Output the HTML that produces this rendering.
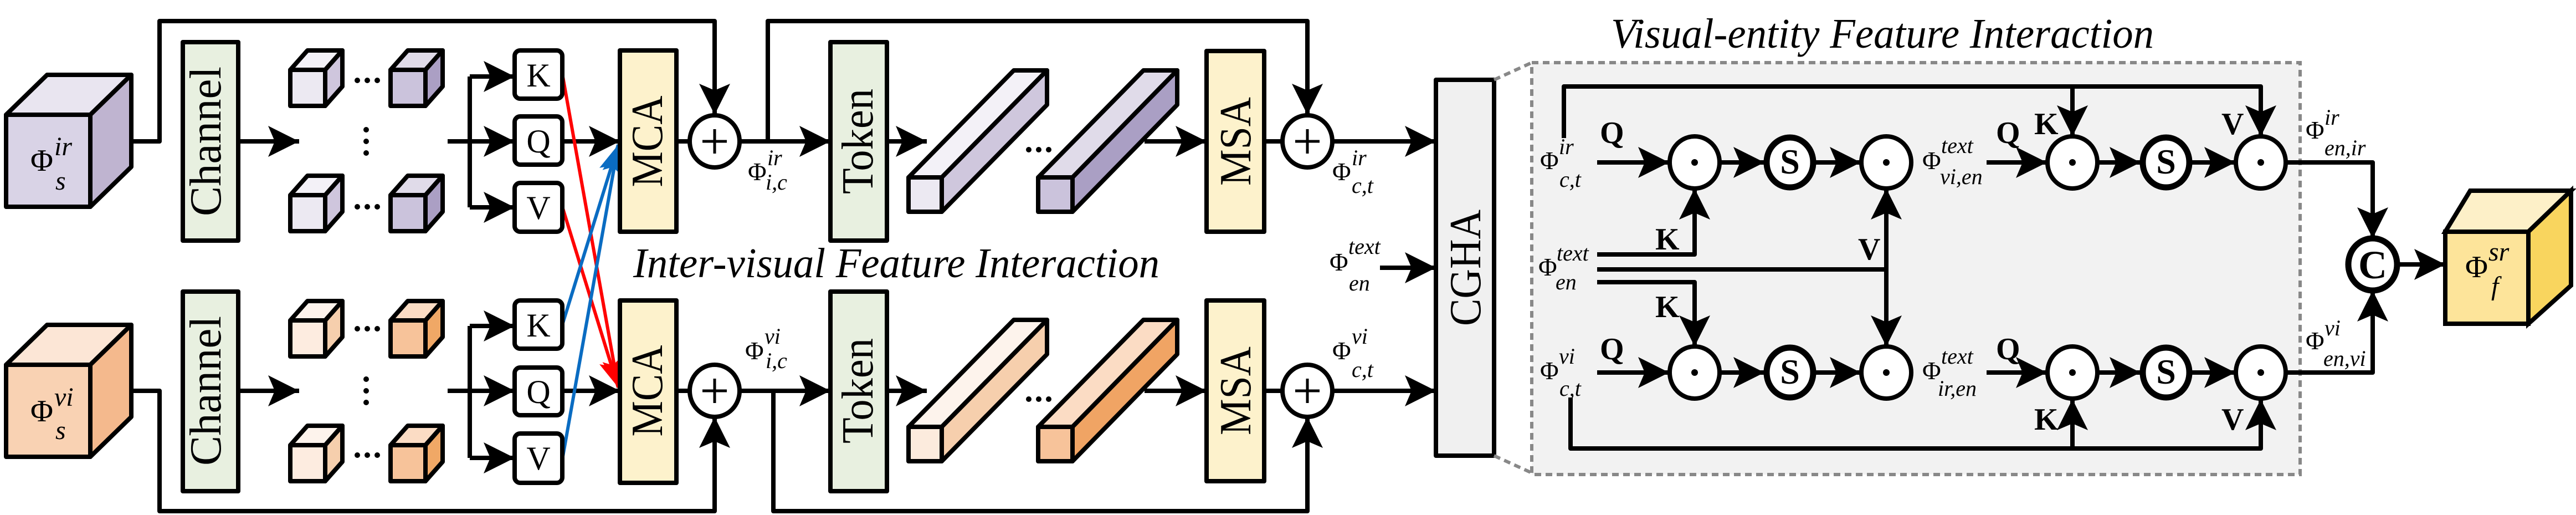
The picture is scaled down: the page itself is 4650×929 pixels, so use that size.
<!DOCTYPE html>
<html><head><meta charset="utf-8"><style>html,body{margin:0;padding:0;background:#fff}svg{display:block}svg text{font-family:"Liberation Serif","DejaVu Serif",serif}</style></head>
<body>
<svg width="4650" height="929" viewBox="0 0 4650 929" xmlns="http://www.w3.org/2000/svg" style="font-family:'Liberation Serif',serif">
<defs>
<marker id="a" markerUnits="userSpaceOnUse" markerWidth="60" markerHeight="60" refX="56" refY="28" orient="auto"><path d="M0,0 L56,28 L0,56 L12,28 Z" fill="#000"/></marker>
<marker id="r" markerUnits="userSpaceOnUse" markerWidth="60" markerHeight="60" refX="50" refY="20" orient="auto"><path d="M0,0 L50,20 L0,40 L10,20 Z" fill="#f00"/></marker>
<marker id="b" markerUnits="userSpaceOnUse" markerWidth="60" markerHeight="60" refX="50" refY="20" orient="auto"><path d="M0,0 L50,20 L0,40 L10,20 Z" fill="#0a6cc2"/></marker>
</defs>
<g stroke="#000" stroke-width="8" fill="none" stroke-linejoin="round">
<polyline points="240,255 288,255 288,38 1290,38 1290,207" marker-end="url(#a)"/>
<polyline points="240,705 288,705 288,922 1290,922 1290,752" marker-end="url(#a)"/>
<polyline points="1336,255 1386,255 1386,38 2360,38 2360,207" marker-end="url(#a)"/>
<polyline points="1336,705 1396,705 1396,922 2360,922 2360,752" marker-end="url(#a)"/>
<line x1="430" y1="255" x2="540" y2="255" marker-end="url(#a)"/>
<line x1="430" y1="705" x2="540" y2="705" marker-end="url(#a)"/>
<polyline points="808,255 848,255"/><polyline points="808,705 848,705"/>
<polyline points="848,138 848,374"/><polyline points="848,588 848,826"/>
<line x1="848" y1="138" x2="929" y2="138" marker-end="url(#a)"/>
<line x1="848" y1="255" x2="929" y2="255" marker-end="url(#a)"/>
<line x1="848" y1="374" x2="929" y2="374" marker-end="url(#a)"/>
<line x1="848" y1="588" x2="929" y2="588" marker-end="url(#a)"/>
<line x1="848" y1="705" x2="929" y2="705" marker-end="url(#a)"/>
<line x1="848" y1="826" x2="929" y2="826" marker-end="url(#a)"/>
<line x1="1015" y1="255" x2="1119" y2="255" marker-end="url(#a)"/>
<line x1="1015" y1="705" x2="1119" y2="705" marker-end="url(#a)"/>
<line x1="1221" y1="255" x2="1244" y2="255"/><line x1="1221" y1="705" x2="1244" y2="705"/>
<line x1="1336" y1="255" x2="1499" y2="255" marker-end="url(#a)"/>
<line x1="1336" y1="705" x2="1499" y2="705" marker-end="url(#a)"/>
<line x1="1601" y1="255" x2="1673" y2="255" marker-end="url(#a)"/>
<line x1="1601" y1="705" x2="1673" y2="705" marker-end="url(#a)"/>
<line x1="2066" y1="255" x2="2178" y2="255" marker-end="url(#a)"/>
<line x1="2066" y1="705" x2="2178" y2="705" marker-end="url(#a)"/>
<line x1="2282" y1="255" x2="2314" y2="255"/><line x1="2282" y1="705" x2="2314" y2="705"/>
<line x1="2406" y1="255" x2="2592" y2="255" marker-end="url(#a)"/>
<line x1="2406" y1="705" x2="2592" y2="705" marker-end="url(#a)"/>
<line x1="2491" y1="483" x2="2592" y2="483" marker-end="url(#a)"/>
</g>
<g stroke-width="6" fill="none">
<line x1="1015" y1="133" x2="1116" y2="699" stroke="#f00" marker-end="url(#r)"/>
<line x1="1015" y1="373" x2="1116" y2="699" stroke="#f00" marker-end="url(#r)"/>
<line x1="1015" y1="586" x2="1116" y2="261" stroke="#0a6cc2" marker-end="url(#b)"/>
<line x1="1015" y1="829" x2="1116" y2="261" stroke="#0a6cc2" marker-end="url(#b)"/>
</g>
<g stroke="#000" stroke-width="8" stroke-linejoin="round">
<polygon points="11,207 85,135 237,135 163,207" fill="#e9e5f0"/>
<polygon points="163,207 237,135 237,301 163,373" fill="#bfb4d0"/>
<rect x="11" y="207" width="152" height="166" fill="#d9d3e6"/>
<polygon points="11,658 85,586 237,586 163,658" fill="#fce6d6"/>
<polygon points="163,658 237,586 237,752 163,824" fill="#f4b98d"/>
<rect x="11" y="658" width="152" height="166" fill="#f9d2b3"/>
<rect x="330" y="76" width="100" height="358" fill="#e8f0e0"/>
<rect x="330" y="526" width="100" height="360" fill="#e8f0e0"/>
<rect x="1499" y="76" width="102" height="358" fill="#e8f0e0"/>
<rect x="1499" y="526" width="102" height="360" fill="#e8f0e0"/>
<g>
<polygon points="524,126 555,91 618,91 587,126" fill="#f3f1f7"/><polygon points="587,126 618,91 618,156 587,191" fill="#cfc6dd"/><rect x="524" y="126" width="63" height="65" fill="#ece9f2"/>
<polygon points="705,126 736,91 799,91 768,126" fill="#e0dbe9"/><polygon points="768,126 799,91 799,156 768,191" fill="#ab9fc4"/><rect x="705" y="126" width="63" height="65" fill="#cbc3dc"/>
<polygon points="524,352 555,317 618,317 587,352" fill="#f3f1f7"/><polygon points="587,352 618,317 618,382 587,417" fill="#cfc6dd"/><rect x="524" y="352" width="63" height="65" fill="#ece9f2"/>
<polygon points="705,352 736,317 799,317 768,352" fill="#e0dbe9"/><polygon points="768,352 799,317 799,382 768,417" fill="#ab9fc4"/><rect x="705" y="352" width="63" height="65" fill="#cbc3dc"/>
<polygon points="524,578 555,543 618,543 587,578" fill="#fdf3ec"/><polygon points="587,578 618,543 618,608 587,643" fill="#f6cfad"/><rect x="524" y="578" width="63" height="65" fill="#fdece0"/>
<polygon points="705,578 736,543 799,543 768,578" fill="#fbdcc4"/><polygon points="768,578 799,543 799,608 768,643" fill="#f0a866"/><rect x="705" y="578" width="63" height="65" fill="#f7c39a"/>
<polygon points="524,803 555,768 618,768 587,803" fill="#fdf3ec"/><polygon points="587,803 618,768 618,833 587,868" fill="#f6cfad"/><rect x="524" y="803" width="63" height="65" fill="#fdece0"/>
<polygon points="705,803 736,768 799,768 768,803" fill="#fbdcc4"/><polygon points="768,803 799,768 799,833 768,868" fill="#f0a866"/><rect x="705" y="803" width="63" height="65" fill="#f7c39a"/>
</g>
<rect x="929" y="91" width="86" height="87" rx="10" fill="#fff"/>
<rect x="929" y="210" width="86" height="87" rx="10" fill="#fff"/>
<rect x="929" y="330" width="86" height="88" rx="10" fill="#fff"/>
<rect x="929" y="542" width="86" height="87" rx="10" fill="#fff"/>
<rect x="929" y="663" width="86" height="86" rx="10" fill="#fff"/>
<rect x="929" y="782" width="86" height="89" rx="10" fill="#fff"/>
<rect x="1119" y="91" width="102" height="327" fill="#fdf2cc"/>
<rect x="1119" y="542" width="102" height="329" fill="#fdf2cc"/>
<rect x="2178" y="92" width="104" height="326" fill="#fdf2cc"/>
<rect x="2178" y="542" width="104" height="326" fill="#fdf2cc"/>
<ellipse cx="1290" cy="255" rx="45" ry="47" fill="#fff"/><ellipse cx="1290" cy="705" rx="45" ry="47" fill="#fff"/>
<ellipse cx="2360" cy="255" rx="45" ry="47" fill="#fff"/><ellipse cx="2360" cy="705" rx="45" ry="47" fill="#fff"/>
<polygon points="1640,320 1830,127 1890,127 1700,320" fill="#f3f1f7"/><polygon points="1700,320 1890,127 1890,189 1700,382" fill="#cfc7dd"/><rect x="1640" y="320" width="60" height="62" fill="#ece9f2"/>
<polygon points="1874,320 2064,127 2125,127 1936,320" fill="#e0dbe9"/><polygon points="1936,320 2125,127 2125,189 1936,382" fill="#aa9fc4"/><rect x="1874" y="320" width="62" height="62" fill="#cbc3dc"/>
<polygon points="1640,770 1830,577 1890,577 1700,770" fill="#fdf3ec"/><polygon points="1700,770 1890,577 1890,639 1700,832" fill="#f6cfad"/><rect x="1640" y="770" width="60" height="62" fill="#fcebdd"/>
<polygon points="1874,770 2064,577 2125,577 1936,770" fill="#fbdcc4"/><polygon points="1936,770 2125,577 2125,639 1936,832" fill="#f0a464"/><rect x="1874" y="770" width="62" height="62" fill="#f7c39a"/>
<rect x="2592" y="144" width="105" height="678" fill="#f0f0f0"/>
</g>
<g stroke="#888" stroke-width="6" stroke-dasharray="12,8" fill="none">
<line x1="2697" y1="144" x2="2765" y2="113"/><line x1="2697" y1="822" x2="2765" y2="853"/>
<rect x="2765" y="113" width="1387" height="743" fill="#f2f2f2"/>
</g>
<g stroke="#000" stroke-width="8" fill="none" stroke-linejoin="round">
<polyline points="2823,249 2823,156 4081,156 4081,246" marker-end="url(#a)"/>
<line x1="3741" y1="156" x2="3741" y2="246" marker-end="url(#a)"/>
<polyline points="2835,717 2835,809 4081,809 4081,720" marker-end="url(#a)"/>
<line x1="3741" y1="809" x2="3741" y2="720" marker-end="url(#a)"/>
<line x1="2883" y1="293" x2="3013" y2="293" marker-end="url(#a)"/>
<line x1="3105" y1="293" x2="3185" y2="293" marker-end="url(#a)"/>
<line x1="3277" y1="293" x2="3359" y2="293" marker-end="url(#a)"/>
<line x1="3586" y1="293" x2="3695" y2="293" marker-end="url(#a)"/>
<line x1="3787" y1="293" x2="3864" y2="293" marker-end="url(#a)"/>
<line x1="3956" y1="293" x2="4035" y2="293" marker-end="url(#a)"/>
<line x1="2883" y1="672" x2="3013" y2="672" marker-end="url(#a)"/>
<line x1="3105" y1="672" x2="3185" y2="672" marker-end="url(#a)"/>
<line x1="3277" y1="672" x2="3359" y2="672" marker-end="url(#a)"/>
<line x1="3586" y1="672" x2="3695" y2="672" marker-end="url(#a)"/>
<line x1="3787" y1="672" x2="3864" y2="672" marker-end="url(#a)"/>
<line x1="3956" y1="672" x2="4035" y2="672" marker-end="url(#a)"/>
<polyline points="2883,459 3059,459 3059,340" marker-end="url(#a)"/>
<line x1="2883" y1="486" x2="3405" y2="486"/>
<line x1="3405" y1="486" x2="3405" y2="340" marker-end="url(#a)"/>
<line x1="3405" y1="486" x2="3405" y2="625" marker-end="url(#a)"/>
<polyline points="2883,509 3059,509 3059,625" marker-end="url(#a)"/>
<polyline points="4127,293 4283,293 4283,430" marker-end="url(#a)"/>
<polyline points="4127,672 4283,672 4283,524" marker-end="url(#a)"/>
<line x1="4329" y1="477" x2="4414" y2="477" marker-end="url(#a)"/>
</g>
<g stroke="#000" stroke-width="8" fill="#fff">
<ellipse cx="3059" cy="293" rx="45" ry="47"/><ellipse cx="3231" cy="293" rx="42" ry="45" stroke-width="11"/><ellipse cx="3405" cy="293" rx="45" ry="47"/>
<ellipse cx="3741" cy="293" rx="45" ry="47"/><ellipse cx="3910" cy="293" rx="42" ry="45" stroke-width="11"/><ellipse cx="4081" cy="293" rx="45" ry="47"/>
<ellipse cx="3059" cy="672" rx="45" ry="47"/><ellipse cx="3231" cy="672" rx="42" ry="45" stroke-width="11"/><ellipse cx="3405" cy="672" rx="45" ry="47"/>
<ellipse cx="3741" cy="672" rx="45" ry="47"/><ellipse cx="3910" cy="672" rx="42" ry="45" stroke-width="11"/><ellipse cx="4081" cy="672" rx="45" ry="47"/>
<ellipse cx="4283" cy="477" rx="44" ry="47" stroke-width="11"/>
<polygon points="4414,418 4459,344 4641,344 4564,418" fill="#fdf0c8"/>
<polygon points="4564,418 4641,344 4641,515 4564,584" fill="#f9d55e"/>
<rect x="4414" y="418" width="150" height="166" fill="#fde49a"/>
</g>
<g fill="#000">
<circle cx="3059" cy="293" r="6"/><circle cx="3405" cy="293" r="6"/><circle cx="3741" cy="293" r="6"/><circle cx="4081" cy="293" r="6"/>
<circle cx="3059" cy="672" r="6"/><circle cx="3405" cy="672" r="6"/><circle cx="3741" cy="672" r="6"/><circle cx="4081" cy="672" r="6"/>
<circle cx="645" cy="145" r="5"/><circle cx="663" cy="145" r="5"/><circle cx="681" cy="145" r="5"/>
<circle cx="645" cy="373" r="5"/><circle cx="663" cy="373" r="5"/><circle cx="681" cy="373" r="5"/>
<circle cx="645" cy="593" r="5"/><circle cx="663" cy="593" r="5"/><circle cx="681" cy="593" r="5"/>
<circle cx="645" cy="821" r="5"/><circle cx="663" cy="821" r="5"/><circle cx="681" cy="821" r="5"/>
<circle cx="661" cy="234" r="5"/><circle cx="661" cy="255" r="5"/><circle cx="661" cy="276" r="5"/>
<circle cx="661" cy="684" r="5"/><circle cx="661" cy="705" r="5"/><circle cx="661" cy="726" r="5"/>
<circle cx="1857" cy="270" r="5"/><circle cx="1875" cy="270" r="5"/><circle cx="1893" cy="270" r="5"/>
<circle cx="1857" cy="720" r="5"/><circle cx="1875" cy="720" r="5"/><circle cx="1893" cy="720" r="5"/>
</g>
<g stroke="#000" stroke-width="5">
<line x1="1268" y1="255" x2="1312" y2="255"/><line x1="1290" y1="233" x2="1290" y2="277"/>
<line x1="1268" y1="705" x2="1312" y2="705"/><line x1="1290" y1="683" x2="1290" y2="727"/>
<line x1="2338" y1="255" x2="2382" y2="255"/><line x1="2360" y1="233" x2="2360" y2="277"/>
<line x1="2338" y1="705" x2="2382" y2="705"/><line x1="2360" y1="683" x2="2360" y2="727"/>
</g>
<g fill="#000" font-size="80">
<text transform="translate(398,255) rotate(-90)" text-anchor="middle" textLength="270" lengthAdjust="spacingAndGlyphs">Channel</text>
<text transform="translate(398,705) rotate(-90)" text-anchor="middle" textLength="270" lengthAdjust="spacingAndGlyphs">Channel</text>
<text transform="translate(1575,255) rotate(-90)" text-anchor="middle" textLength="190" lengthAdjust="spacingAndGlyphs">Token</text>
<text transform="translate(1575,705) rotate(-90)" text-anchor="middle" textLength="190" lengthAdjust="spacingAndGlyphs">Token</text>
<text transform="translate(1195,255) rotate(-90)" text-anchor="middle" textLength="165" lengthAdjust="spacingAndGlyphs">MCA</text>
<text transform="translate(1195,705) rotate(-90)" text-anchor="middle" textLength="165" lengthAdjust="spacingAndGlyphs">MCA</text>
<text transform="translate(2257,255) rotate(-90)" text-anchor="middle" textLength="160" lengthAdjust="spacingAndGlyphs">MSA</text>
<text transform="translate(2257,705) rotate(-90)" text-anchor="middle" textLength="160" lengthAdjust="spacingAndGlyphs">MSA</text>
<text transform="translate(2672,483) rotate(-90)" text-anchor="middle" textLength="210" lengthAdjust="spacingAndGlyphs">CGHA</text>
<g font-size="60" text-anchor="middle">
<text x="972" y="156">K</text><text x="972" y="275">Q</text><text x="972" y="395">V</text>
<text x="972" y="607">K</text><text x="972" y="727">Q</text><text x="972" y="847">V</text>
</g>
<text x="1143" y="500" font-style="italic" font-size="76" textLength="950" lengthAdjust="spacingAndGlyphs">Inter-visual Feature Interaction</text>
<text x="2908" y="86" font-style="italic" font-size="76" textLength="980" lengthAdjust="spacingAndGlyphs">Visual-entity Feature Interaction</text>
<g font-weight="bold" font-size="56">
<text x="3231" y="313" text-anchor="middle" font-size="64">S</text><text x="3910" y="313" text-anchor="middle" font-size="64">S</text>
<text x="3231" y="692" text-anchor="middle" font-size="64">S</text><text x="3910" y="692" text-anchor="middle" font-size="64">S</text>
<text x="4283" y="502" text-anchor="middle" font-size="72">C</text>
<text x="2888" y="258">Q</text><text x="3603" y="258">Q</text><text x="2888" y="648">Q</text><text x="3603" y="648">Q</text>
<text x="3672" y="242">K</text><text x="4010" y="242">V</text>
<text x="2988" y="450">K</text><text x="3354" y="468">V</text><text x="2988" y="572">K</text>
<text x="3672" y="775">K</text><text x="4010" y="775">V</text>
</g>
<g font-size="56">
<text x="55" y="308">Φ</text><text x="98" y="280" font-size="48" font-style="italic">ir</text><text x="100" y="342" font-size="48" font-style="italic">s</text>
<text x="55" y="760">Φ</text><text x="98" y="732" font-size="48" font-style="italic">vi</text><text x="100" y="792" font-size="48" font-style="italic">s</text>
<text x="1350" y="325" font-size="46">Φ</text><text x="1385" y="298" font-size="40" font-style="italic">ir</text><text x="1382" y="342" font-size="40" font-style="italic">i,c</text>
<text x="1345" y="648" font-size="46">Φ</text><text x="1380" y="620" font-size="40" font-style="italic">vi</text><text x="1382" y="664" font-size="40" font-style="italic">i,c</text>
<text x="2405" y="325" font-size="46">Φ</text><text x="2440" y="298" font-size="40" font-style="italic">ir</text><text x="2440" y="348" font-size="40" font-style="italic">c,t</text>
<text x="2405" y="648" font-size="46">Φ</text><text x="2440" y="620" font-size="40" font-style="italic">vi</text><text x="2440" y="680" font-size="40" font-style="italic">c,t</text>
<text x="2400" y="488" font-size="46">Φ</text><text x="2434" y="458" font-size="40" font-style="italic">text</text><text x="2435" y="524" font-size="40" font-style="italic">en</text>
<text x="2780" y="305" font-size="46">Φ</text><text x="2814" y="278" font-size="40" font-style="italic">ir</text><text x="2815" y="337" font-size="40" font-style="italic">c,t</text>
<text x="2780" y="684" font-size="46">Φ</text><text x="2814" y="656" font-size="40" font-style="italic">vi</text><text x="2815" y="714" font-size="40" font-style="italic">c,t</text>
<text x="2777" y="497" font-size="46">Φ</text><text x="2810" y="470" font-size="40" font-style="italic">text</text><text x="2808" y="522" font-size="40" font-style="italic">en</text>
<text x="3470" y="305" font-size="46">Φ</text><text x="3504" y="276" font-size="40" font-style="italic">text</text><text x="3502" y="332" font-size="40" font-style="italic">vi,en</text>
<text x="3470" y="684" font-size="46">Φ</text><text x="3504" y="656" font-size="40" font-style="italic">text</text><text x="3498" y="714" font-size="40" font-style="italic">ir,en</text>
<text x="4162" y="250" font-size="46">Φ</text><text x="4196" y="225" font-size="40" font-style="italic">ir</text><text x="4196" y="280" font-size="40" font-style="italic">en,ir</text>
<text x="4162" y="630" font-size="46">Φ</text><text x="4196" y="605" font-size="40" font-style="italic">vi</text><text x="4194" y="660" font-size="40" font-style="italic">en,vi</text>
<text x="4450" y="500" font-size="56">Φ</text><text x="4492" y="470" font-size="48" font-style="italic">sr</text><text x="4497" y="532" font-size="48" font-style="italic">f</text>
</g>
</g>
</svg>
</body></html>
